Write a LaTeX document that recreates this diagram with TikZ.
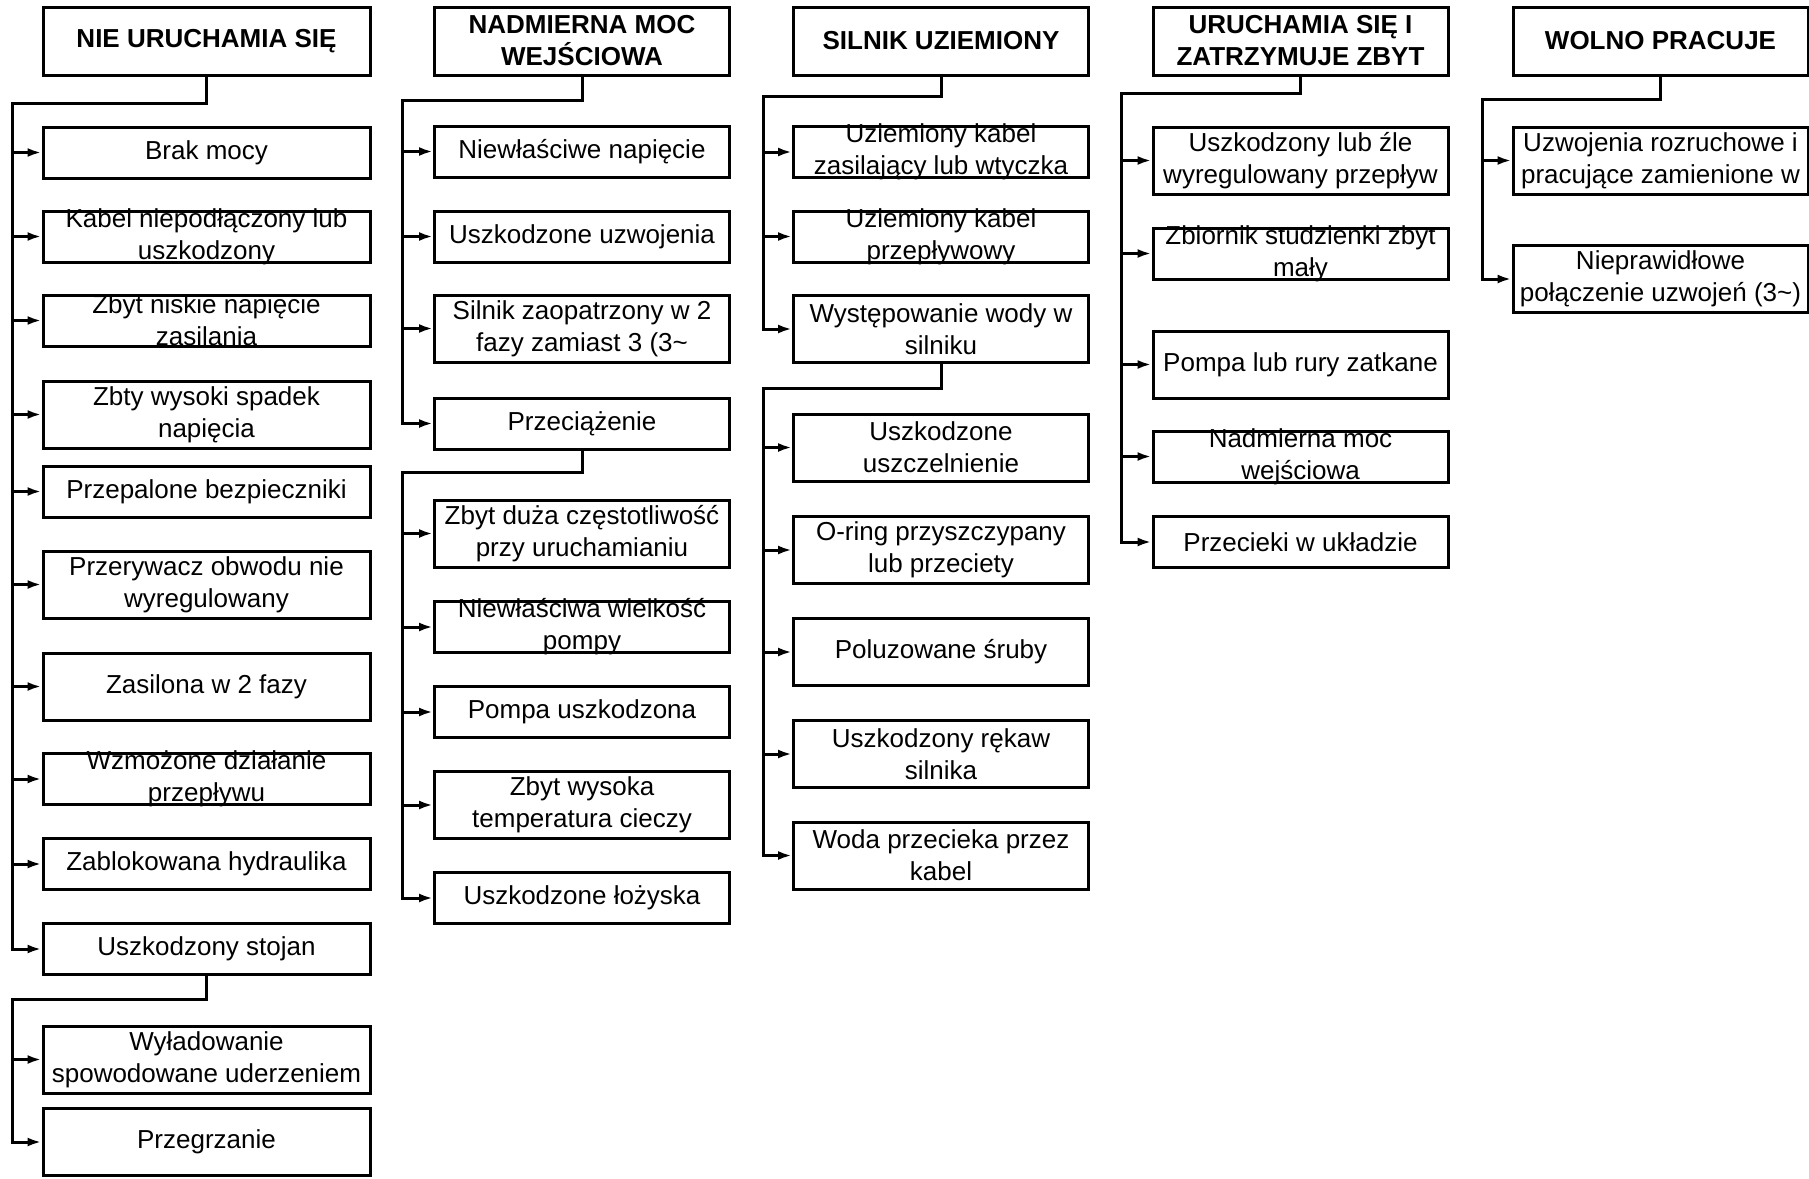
\documentclass[tikz,border=0pt]{standalone}
\usepackage{fontspec}
\setmainfont{Liberation Sans}
\usetikzlibrary{arrows.meta}

\begin{document}
\begin{tikzpicture}[
  x=0.5pt, y=-0.5pt,
  head/.style={draw,line width=1.5pt,align=center,font=\fontsize{13}{16}\selectfont\bfseries,minimum height=34pt,inner xsep=0pt,inner ysep=-3pt},
  box/.style={draw,line width=1.5pt,align=center,font=\fontsize{13}{16}\selectfont,inner xsep=0pt,inner ysep=-3pt},
  wide/.style={minimum width=163.5pt},
  narrow/.style={minimum width=147.5pt},
  low/.style={minimum height=25.5pt},
  high/.style={minimum height=33.5pt},
  wire/.style={line width=1.5pt},
  arr/.style={wire,-{Latex[length=7pt,width=4.5pt]}}
]
\useasboundingbox (0,0) rectangle (1809,1178);

\node[head,wide] (nie) at (206.5,41) {NIE URUCHAMIA SIĘ};
\node[box,wide,low] (brak) at (206.5,152.5) {Brak mocy};
\node[box,wide,low] (kabel) at (206.5,236.5) {Kabel niepodłączony lub\\uszkodzony};
\node[box,wide,low] (niskie) at (206.5,320.5) {Zbyt niskie napięcie\\zasilania};
\node[box,wide,high] (spadek) at (206.5,414.5) {Zbty wysoki spadek\\napięcia};
\node[box,wide,low] (bezp) at (206.5,491.5) {Przepalone bezpieczniki};
\node[box,wide,high] (przer) at (206.5,584.5) {Przerywacz obwodu nie\\wyregulowany};
\node[box,wide,high] (fazy) at (206.5,686.5) {Zasilona w 2 fazy};
\node[box,wide,low] (wzmoz) at (206.5,779) {Wzmożone działanie\\przepływu};
\node[box,wide,low] (hydr) at (206.5,864) {Zablokowana hydraulika};
\node[box,wide,low] (stojan) at (206.5,949) {Uszkodzony stojan};
\node[box,wide,high] (wylad) at (206.5,1059.5) {Wyładowanie\\spowodowane uderzeniem};
\node[box,wide,high] (grzanie) at (206.5,1142) {Przegrzanie};

\node[head,narrow] (moc) at (582,41) {NADMIERNA MOC\\WEJŚCIOWA};
\node[box,narrow,low] (napiecie) at (582,151.5) {Niewłaściwe napięcie};
\node[box,narrow,low] (uzwoj) at (582,236.5) {Uszkodzone uzwojenia};
\node[box,narrow,high] (dwiefazy) at (582,328.5) {Silnik zaopatrzony w 2\\fazy zamiast 3 (3\textasciitilde};
\node[box,narrow,low] (przec) at (582,423.5) {Przeciążenie};
\node[box,narrow,high] (czest) at (582,533.5) {Zbyt duża częstotliwość\\przy uruchamianiu};
\node[box,narrow,low] (wielk) at (582,627) {Niewłaściwa wielkość\\pompy};
\node[box,narrow,low] (pompa) at (582,712) {Pompa uszkodzona};
\node[box,narrow,high] (temp) at (582,805) {Zbyt wysoka\\temperatura cieczy};
\node[box,narrow,low] (lozyska) at (582,898) {Uszkodzone łożyska};

\node[head,narrow] (uziem) at (941,41) {SILNIK UZIEMIONY};
\node[box,narrow,low] (zasil) at (941,152) {Uziemiony kabel\\zasilający lub wtyczka};
\node[box,narrow,low] (przepl) at (941,236.5) {Uziemiony kabel\\przepływowy};
\node[box,narrow,high] (woda) at (941,329) {Występowanie wody w\\silniku};
\node[box,narrow,high] (uszcz) at (941,447.5) {Uszkodzone\\uszczelnienie};
\node[box,narrow,high] (oring) at (941,550) {O-ring przyszczypany\\lub przeciety};
\node[box,narrow,high] (sruby) at (941,652) {Poluzowane śruby};
\node[box,narrow,high] (rekaw) at (941,754) {Uszkodzony rękaw\\silnika};
\node[box,narrow,high] (przeciek) at (941,855.5) {Woda przecieka przez\\kabel};

\node[head,narrow] (zatrz) at (1300.5,41) {URUCHAMIA SIĘ I\\ZATRZYMUJE ZBYT};
\node[box,narrow,high] (regul) at (1300.5,160.5) {Uszkodzony lub źle\\wyregulowany przepływ};
\node[box,narrow,low] (zbiorn) at (1300.5,253.5) {Zbiornik studzienki zbyt\\mały};
\node[box,narrow,high] (zatk) at (1300.5,364.5) {Pompa lub rury zatkane};
\node[box,narrow,low] (nadm) at (1300.5,456.5) {Nadmierna moc\\wejściowa};
\node[box,narrow,low] (wycieki) at (1300.5,542) {Przecieki w układzie};

\node[head,narrow] (wolno) at (1660.5,41) {WOLNO PRACUJE};
\node[box,narrow,high] (rozruch) at (1660.5,160.5) {Uzwojenia rozruchowe i\\pracujące zamienione w};
\node[box,narrow,high] (polacz) at (1660.5,279) {Nieprawidłowe\\połączenie uzwojeń (3\textasciitilde)};

\coordinate (j1) at (12,103);
\coordinate (j1b) at (12,999);
\coordinate (j2) at (402,100);
\coordinate (j2b) at (402,472);
\coordinate (j3) at (763,96);
\coordinate (j3b) at (763,388);
\coordinate (j4) at (1121,93);
\coordinate (j5) at (1482,99);

\draw[arr] (nie.south) |- (j1) |- (stojan.west);
\draw[arr] (j1 |- brak.west) -- (brak.west);
\draw[arr] (j1 |- kabel.west) -- (kabel.west);
\draw[arr] (j1 |- niskie.west) -- (niskie.west);
\draw[arr] (j1 |- spadek.west) -- (spadek.west);
\draw[arr] (j1 |- bezp.west) -- (bezp.west);
\draw[arr] (j1 |- przer.west) -- (przer.west);
\draw[arr] (j1 |- fazy.west) -- (fazy.west);
\draw[arr] (j1 |- wzmoz.west) -- (wzmoz.west);
\draw[arr] (j1 |- hydr.west) -- (hydr.west);
\draw[arr] (stojan.south) |- (j1b) |- (grzanie.west);
\draw[arr] (j1b |- wylad.west) -- (wylad.west);

\draw[arr] (moc.south) |- (j2) |- (przec.west);
\draw[arr] (j2 |- napiecie.west) -- (napiecie.west);
\draw[arr] (j2 |- uzwoj.west) -- (uzwoj.west);
\draw[arr] (j2 |- dwiefazy.west) -- (dwiefazy.west);
\draw[arr] (przec.south) |- (j2b) |- (lozyska.west);
\draw[arr] (j2b |- czest.west) -- (czest.west);
\draw[arr] (j2b |- wielk.west) -- (wielk.west);
\draw[arr] (j2b |- pompa.west) -- (pompa.west);
\draw[arr] (j2b |- temp.west) -- (temp.west);

\draw[arr] (uziem.south) |- (j3) |- (woda.west);
\draw[arr] (j3 |- zasil.west) -- (zasil.west);
\draw[arr] (j3 |- przepl.west) -- (przepl.west);
\draw[arr] (woda.south) |- (j3b) |- (przeciek.west);
\draw[arr] (j3b |- uszcz.west) -- (uszcz.west);
\draw[arr] (j3b |- oring.west) -- (oring.west);
\draw[arr] (j3b |- sruby.west) -- (sruby.west);
\draw[arr] (j3b |- rekaw.west) -- (rekaw.west);

\draw[arr] (zatrz.south) |- (j4) |- (wycieki.west);
\draw[arr] (j4 |- regul.west) -- (regul.west);
\draw[arr] (j4 |- zbiorn.west) -- (zbiorn.west);
\draw[arr] (j4 |- zatk.west) -- (zatk.west);
\draw[arr] (j4 |- nadm.west) -- (nadm.west);

\draw[arr] (wolno.south) |- (j5) |- (polacz.west);
\draw[arr] (j5 |- rozruch.west) -- (rozruch.west);
\end{tikzpicture}
\end{document}
